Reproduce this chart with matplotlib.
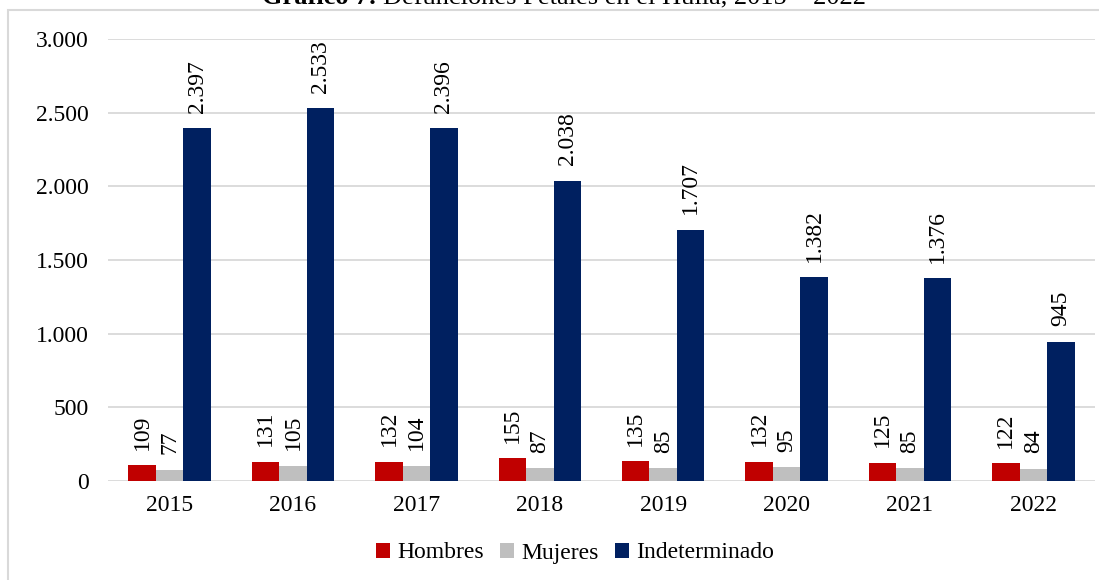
import matplotlib.pyplot as plt
import numpy as np
from matplotlib.patches import Rectangle

years = ["2015", "2016", "2017", "2018", "2019", "2020", "2021", "2022"]
hombres = [109, 131, 132, 155, 135, 132, 125, 122]
mujeres = [77, 105, 104, 87, 85, 95, 85, 84]
indeterminado = [2397, 2533, 2396, 2038, 1707, 1382, 1376, 945]
series_names = ["Hombres", "Mujeres", "Indeterminado"]
colors = ["#c00000", "#bfbfbf", "#002060"]


def fmt(v):
    # separador de miles con punto
    return f"{v:,}".replace(",", ".")


def draw_chart():
    plt.rcParams['font.family'] = ['Liberation Serif', 'DejaVu Serif']
    W, H = 1099, 580
    fig = plt.figure(figsize=(W / 100, H / 100), dpi=100)

    # marco gris del gráfico
    fig.patches.append(Rectangle((8 / W, -0.2), 1.2, 1.2 - 10 / H,
                                 transform=fig.transFigure, fill=False,
                                 edgecolor="#d9d9d9", lw=1.5))

    ax = fig.add_axes([108 / W, 1 - 481 / H, (1095 - 108) / W, (481 - 39) / H])
    x = np.arange(len(years))
    w = 0.223
    for i, (vals, name, c) in enumerate(zip([hombres, mujeres, indeterminado], series_names, colors)):
        pos = x + (i - 1) * w
        ax.bar(pos, vals, width=w, color=c, label=name, zorder=2)
        for p, v in zip(pos, vals):
            ax.annotate(fmt(v), xy=(p, v), xytext=(0, 11), textcoords='offset points',
                        rotation=90, ha='center', va='bottom', fontsize=17)

    ax.set_xlim(-0.5, len(years) - 0.5)
    ax.set_ylim(0, 3000)
    ax.set_yticks(range(0, 3001, 500))
    ax.set_yticklabels([fmt(v) for v in range(0, 3001, 500)])
    ax.set_xticks(x)
    ax.set_xticklabels(years)
    ax.tick_params(axis='both', length=0, labelsize=17)
    ax.tick_params(axis='y', pad=14)
    ax.tick_params(axis='x', pad=10)
    ax.grid(axis='y', color="#d9d9d9", lw=1.3, zorder=0)
    ax.set_axisbelow(True)
    for s in ax.spines.values():
        s.set_visible(False)

    fig.legend(loc='center', bbox_to_anchor=(575 / W, 1 - 553 / H), ncol=3,
               frameon=False, fontsize=17, handlelength=0.6, handleheight=0.6,
               handletextpad=0.3, columnspacing=0.7)

    # título (cortado en la parte superior como en la imagen original)
    ty = 1 - 4 / H
    fig.text(377 / W, ty, "Gráfico 7:", ha='right', va='baseline',
             fontsize=19, fontweight='bold')
    fig.text(383 / W, ty, "Defunciones Fetales en el Huila, 2015 – 2022",
             ha='left', va='baseline', fontsize=19)

    fig.savefig("out.png", dpi=100)


if __name__ == "__main__":
    draw_chart()
